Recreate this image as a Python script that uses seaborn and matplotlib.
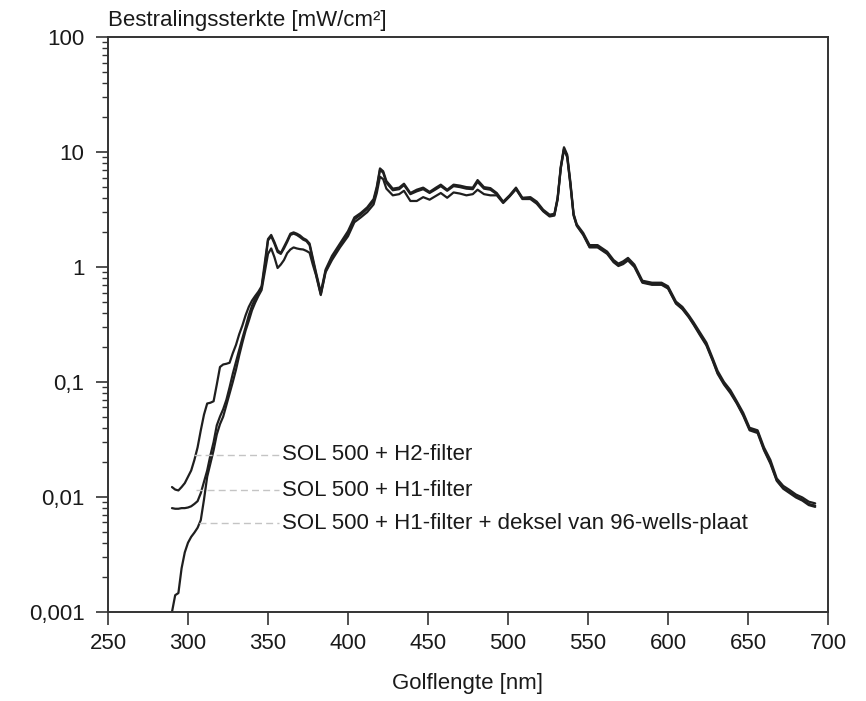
import numpy as np
import pandas as pd
import matplotlib
matplotlib.use("Agg")
import matplotlib.pyplot as plt
import seaborn as sns
from matplotlib.ticker import LogLocator, FixedLocator, FixedFormatter, NullFormatter

wavelength = [290, 292, 294, 296, 298, 300, 302, 304, 306, 308, 310, 312, 314, 316, 318, 320,
              322, 324, 326, 328, 330, 332, 334, 336, 338, 340, 342, 344, 346, 348, 350, 352,
              354, 356, 358, 360, 362, 364, 366, 368, 370, 372, 374, 376, 378, 380, 383, 386,
              390, 395, 400, 404, 408, 412, 416, 418, 420, 422, 424, 428, 432, 435, 439, 443,
              447, 451, 455, 458, 462, 466, 470, 474, 478, 481, 485, 489, 493, 497, 501, 505,
              509, 514, 518, 522, 526, 529, 531, 533, 535, 537, 539, 541, 543, 547, 551, 556,
              562, 566, 569, 572, 575, 579, 584, 590, 596, 600, 605, 609, 613, 616, 620, 624,
              628, 631, 635, 639, 643, 647, 651, 656, 660, 664, 668, 672, 676, 680, 684, 688, 692]

h2_filter = [0.0122, 0.0116, 0.0114, 0.0122, 0.0132, 0.015, 0.017, 0.021, 0.027, 0.038, 0.052, 0.065,
             0.066, 0.068, 0.095, 0.135, 0.142, 0.144, 0.147, 0.178, 0.21, 0.26, 0.31, 0.38, 0.45,
             0.51, 0.56, 0.61, 0.68, 1.1, 1.75, 1.9, 1.65, 1.4, 1.32, 1.5, 1.7, 1.95, 2.0, 1.95,
             1.88, 1.78, 1.72, 1.6, 1.2, 0.9, 0.6, 0.95, 1.25, 1.6, 2.05, 2.7, 2.95, 3.3, 3.9, 5.0,
             7.2, 6.8, 5.6, 4.8, 4.9, 5.3, 4.4, 4.7, 4.9, 4.5, 4.9, 5.2, 4.7, 5.2, 5.1, 4.95, 4.9,
             5.7, 4.95, 4.85, 4.4, 3.7, 4.2, 4.9, 4.0, 4.05, 3.7, 3.15, 2.85, 2.9, 4.0, 7.5, 11.0,
             9.5, 5.5, 2.9, 2.35, 1.98, 1.55, 1.55, 1.36, 1.15, 1.07, 1.12, 1.2, 1.05, 0.76, 0.73,
             0.73, 0.68, 0.5, 0.45, 0.38, 0.33, 0.27, 0.22, 0.16, 0.125, 0.1, 0.085, 0.068, 0.054,
             0.04, 0.038, 0.027, 0.021, 0.0145, 0.0125, 0.0115, 0.0105, 0.0099, 0.0091, 0.0088]

h1_filter = [0.0080, 0.0079, 0.0079, 0.0080, 0.0080, 0.0081, 0.0083, 0.0087, 0.0092, 0.0108, 0.0135,
             0.017, 0.023, 0.030, 0.042, 0.050, 0.058, 0.070, 0.090, 0.118, 0.15, 0.19, 0.24, 0.30,
             0.38, 0.46, 0.53, 0.59, 0.66, 1.0, 1.7, 1.85, 1.6, 1.35, 1.3, 1.45, 1.65, 1.9, 1.95,
             1.9, 1.82, 1.73, 1.68, 1.55, 1.15, 0.87, 0.58, 0.92, 1.2, 1.55, 1.95, 2.6, 2.85, 3.2,
             3.75, 4.8, 7.0, 6.6, 5.4, 4.65, 4.75, 5.15, 4.3, 4.55, 4.75, 4.4, 4.75, 5.05, 4.6, 5.05,
             4.95, 4.8, 4.75, 5.5, 4.8, 4.7, 4.3, 3.65, 4.15, 4.8, 3.95, 3.95, 3.6, 3.08, 2.8, 2.85,
             3.9, 7.3, 10.7, 9.2, 5.3, 2.85, 2.3, 1.93, 1.5, 1.5, 1.32, 1.12, 1.04, 1.08, 1.16, 1.02,
             0.74, 0.71, 0.71, 0.66, 0.485, 0.435, 0.37, 0.32, 0.26, 0.212, 0.155, 0.12, 0.097,
             0.082, 0.066, 0.052, 0.039, 0.037, 0.026, 0.020, 0.014, 0.012, 0.011, 0.0101, 0.0095,
             0.0087, 0.0084]

h1_deksel = [0.00100, 0.00140, 0.00146, 0.00240, 0.0033, 0.0040, 0.0045, 0.0049, 0.0054, 0.0063,
             0.0095, 0.0150, 0.0195, 0.0255, 0.035, 0.043, 0.050, 0.063, 0.079, 0.100, 0.128, 0.17,
             0.22, 0.28, 0.34, 0.42, 0.49, 0.56, 0.63, 0.9, 1.3, 1.45, 1.22, 0.98, 1.05, 1.15, 1.32,
             1.42, 1.48, 1.45, 1.43, 1.42, 1.38, 1.33, 1.05, 0.85, 0.57, 0.9, 1.15, 1.48, 1.85, 2.45,
             2.7, 3.0, 3.5, 4.4, 6.1, 5.8, 4.8, 4.2, 4.3, 4.6, 3.75, 3.75, 4.05, 3.85, 4.15, 4.4, 4.0,
             4.45, 4.35, 4.2, 4.3, 4.7, 4.3, 4.2, 4.2, 3.6, 4.1, 4.75, 3.9, 3.9, 3.55, 3.05, 2.75,
             2.8, 3.85, 7.2, 10.5, 9.0, 5.2, 2.8, 2.28, 1.9, 1.48, 1.48, 1.3, 1.1, 1.02, 1.06, 1.14,
             1.0, 0.73, 0.70, 0.70, 0.65, 0.48, 0.43, 0.365, 0.315, 0.255, 0.208, 0.152, 0.118,
             0.095, 0.080, 0.065, 0.051, 0.038, 0.036, 0.0255, 0.0195, 0.0138, 0.0118, 0.0108,
             0.0099, 0.0093, 0.0085, 0.0082]

series_labels = ["SOL 500 + H2-filter", "SOL 500 + H1-filter",
                 "SOL 500 + H1-filter + deksel van 96-wells-plaat"]
x_ticks = [250, 300, 350, 400, 450, 500, 550, 600, 650, 700]
y_ticks = [0.001, 0.01, 0.1, 1, 10, 100]
y_tick_labels = ["0,001", "0,01", "0,1", "1", "10", "100"]
legend_y = [0.0232, 0.0115, 0.0059]
legend_line_start = [304, 305, 307]

sns.set_style("ticks")
plt.rcParams["font.family"] = ["Liberation Sans", "DejaVu Sans"]

df = pd.DataFrame({"wavelength": wavelength * 3,
                   "value": h2_filter + h1_filter + h1_deksel,
                   "series": [series_labels[0]] * len(wavelength)
                             + [series_labels[1]] * len(wavelength)
                             + [series_labels[2]] * len(wavelength)})

fig = plt.figure(figsize=(8.66, 7.01), dpi=100)
ax = fig.add_axes([0.1247, 0.127, 0.8314, 0.8202])

sns.lineplot(data=df, x="wavelength", y="value", units="series", estimator=None,
             color="#1f1f1f", linewidth=1.6, ax=ax, legend=False)

ax.set_yscale("log")
ax.set_xlim(250, 700)
ax.set_ylim(0.001, 100)
ax.xaxis.set_major_locator(FixedLocator(x_ticks))
ax.set_xticklabels([str(t) for t in x_ticks])
ax.yaxis.set_major_locator(FixedLocator(y_ticks))
ax.yaxis.set_major_formatter(FixedFormatter(y_tick_labels))
ax.yaxis.set_minor_locator(LogLocator(base=10, subs=np.arange(2, 10), numticks=20))
ax.yaxis.set_minor_formatter(NullFormatter())

for s in ax.spines.values():
    s.set_visible(True)
    s.set_color("#333333")
    s.set_linewidth(1.4)

FS = 16
ax.tick_params(axis="both", which="major", direction="out", length=9, width=1.2,
               color="#333333", labelsize=FS, labelcolor="#1a1a1a", pad=6)
ax.tick_params(axis="y", which="major", pad=8)
ax.tick_params(axis="y", which="minor", direction="out", length=4, width=1.0, color="#333333")
ax.tick_params(axis="x", which="minor", length=0)

ax.set_xlabel("Golflengte [nm]", fontsize=FS, color="#1a1a1a", labelpad=14)
ax.set_ylabel("")
fig.text(0.1247, 0.963, "Bestralingssterkte [mW/cm\u00b2]", fontsize=FS, color="#1a1a1a",
         ha="left", va="baseline")

for lab, yv, xs in zip(series_labels, legend_y, legend_line_start):
    ax.plot([xs, 357], [yv, yv], color="#c4c4c4", linestyle=(0, (5, 3)), linewidth=1.0)
    ax.text(359, yv, lab, fontsize=FS, color="#1a1a1a", ha="left", va="center")

fig.savefig("out.png", dpi=100)
